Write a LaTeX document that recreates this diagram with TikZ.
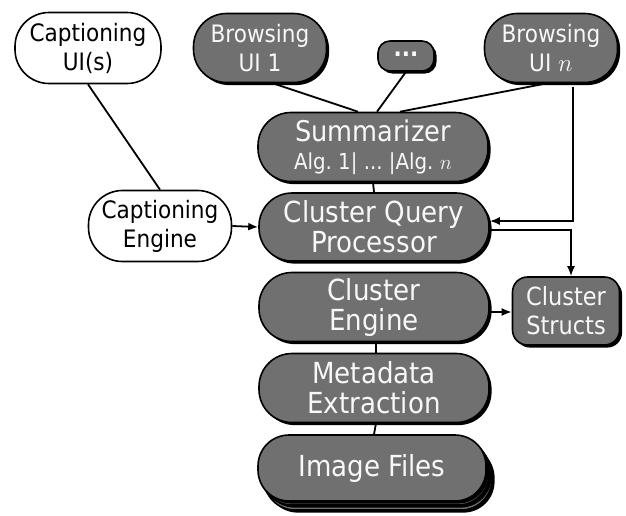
\documentclass[tikz,border=0pt]{standalone}
\usepackage{fontspec}
\setmainfont{DejaVu Sans Condensed}
\usetikzlibrary{arrows.meta,shadows}
\definecolor{boxgray}{RGB}{112,112,112}
\definecolor{boxtext}{RGB}{248,248,248}
\begin{document}
\begin{tikzpicture}[x=1pt,y=-1pt,
  gbox/.style={draw=black, line width=1.6pt, fill=boxgray, text=boxtext,
    general shadow={fill=black, shadow xshift=2.6pt, shadow yshift=-2.6pt},
    align=center, inner sep=0pt},
  wbox/.style={draw=black, line width=1.6pt, fill=white, text=black, align=center, inner sep=0pt},
  small/.style={font=\fontsize{24}{29}\selectfont},
  big/.style={font=\fontsize{29}{30}\selectfont},
  conn/.style={line width=1.8pt},
  arr/.style={line width=1.8pt, -{Latex[length=10pt,width=8pt]}}
]
\useasboundingbox (0,0) rectangle (626,515);

% image files stack
\node[gbox, minimum width=228pt, minimum height=66pt, rounded corners=31pt] (imgc) at (378,477) {};
\node[gbox, minimum width=228pt, minimum height=66pt, rounded corners=31pt] (imgb) at (375,472) {};
\node[gbox, big, minimum width=228pt, minimum height=66pt, rounded corners=31pt] (img) at (372,468) {Image Files};

\node[wbox, small, minimum width=146pt, minimum height=71pt, rounded corners=34pt] (capui) at (88,48) {Captioning\\UI(s)};
\node[gbox, small, minimum width=133pt, minimum height=69pt, rounded corners=33pt] (bui1) at (260,48) {Browsing\\UI 1};
\node[gbox, minimum width=56pt, minimum height=30pt, rounded corners=12pt, font=\fontsize{24}{24}\selectfont\bfseries] (dots) at (406,56) {\raisebox{3pt}{...}};
\node[gbox, small, minimum width=133pt, minimum height=69pt, rounded corners=33pt] (buin) at (551,48) {Browsing\\UI $n$};

\node[gbox, minimum width=230pt, minimum height=69pt, rounded corners=33pt, font=\fontsize{28.5}{30}\selectfont] (summ) at (373,147)
  {Summarizer\\[-2pt]{\fontsize{22}{22}\selectfont Alg.\ 1|\ ...\ |Alg.\ $n$}};
\node[gbox, big, minimum width=230pt, minimum height=68pt, rounded corners=33pt] (cqp) at (374,227) {Cluster Query\\Processor};
\node[wbox, small, minimum width=143pt, minimum height=71pt, rounded corners=34pt] (cape) at (160,226) {Captioning\\Engine};
\node[gbox, big, minimum width=230pt, minimum height=69pt, rounded corners=33pt] (ceng) at (374,307) {Cluster\\Engine};
\node[gbox, font=\fontsize{25}{29}\selectfont, minimum width=107pt, minimum height=68pt, rounded corners=15pt] (cstr) at (566,311) {Cluster\\Structs};
\node[gbox, big, minimum width=230pt, minimum height=69pt, rounded corners=33pt] (meta) at (374,388) {Metadata\\Extraction};

% connectors
\draw[conn] (capui.south) -- (cape.north);
\draw[conn] ([xshift=13pt]bui1.south) -- ([xshift=-15pt]summ.north);
\draw[conn] (dots.south) -- ([xshift=4pt]summ.north);
\draw[conn] ([xshift=-4pt]buin.south) -- ([xshift=27pt]summ.north);
\draw[conn] (summ.south) -- (cqp.north);
\draw[arr] (cape.east) -- (cqp.west);
\draw[arr] ([xshift=22pt,yshift=-4pt]buin.south) |- ([yshift=6pt]cqp.east);
\draw[arr] ([yshift=-3pt]cqp.east) -| ([xshift=5pt]cstr.north);
\draw[arr] ([yshift=-5pt]ceng.east) -- ([yshift=-5pt]ceng.east -| cstr.west);
\draw[conn] ([xshift=2pt]ceng.south) -- ([xshift=2pt]meta.north);
\draw[conn] ([xshift=2pt]meta.south) -- ([xshift=2pt]img.north);
\end{tikzpicture}
\end{document}
